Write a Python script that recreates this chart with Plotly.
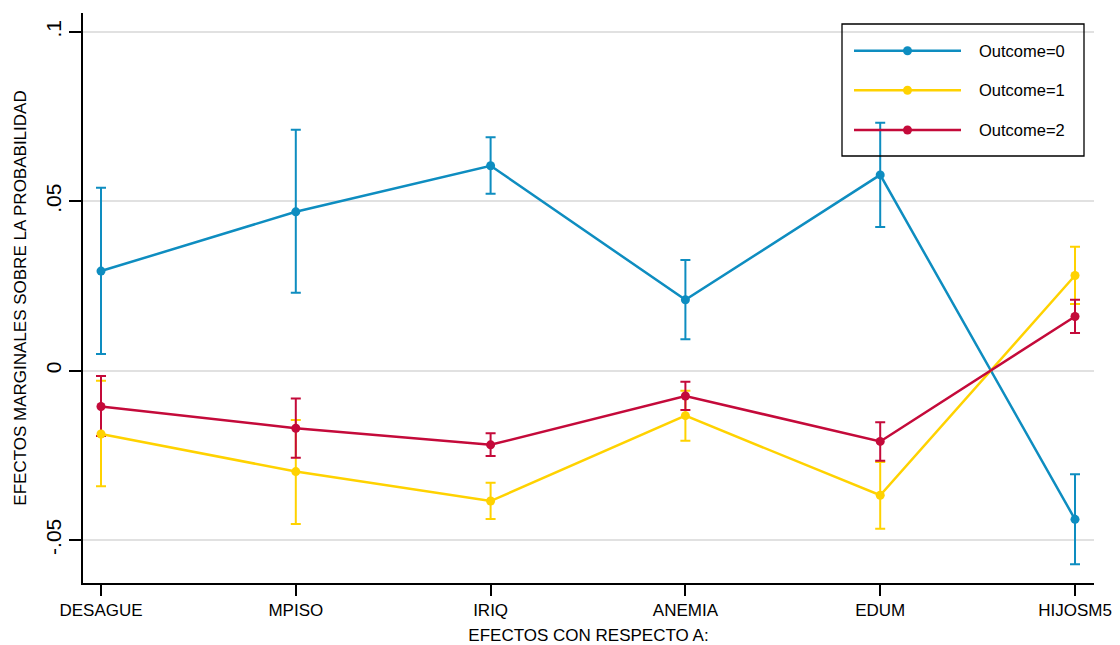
import plotly.graph_objects as go

categories = ["DESAGUE", "MPISO", "IRIQ", "ANEMIA", "EDUM", "HIJOSM5"]
series_names = ["Outcome=0", "Outcome=1", "Outcome=2"]

out0 = [0.0294, 0.0469, 0.0605, 0.0209, 0.0578, -0.0439]
out0_hi = [0.0540, 0.0711, 0.0689, 0.0327, 0.0732, -0.0306]
out0_lo = [0.0049, 0.0230, 0.0522, 0.0093, 0.0424, -0.0572]

out1 = [-0.0187, -0.0298, -0.0385, -0.0133, -0.0368, 0.0281]
out1_hi = [-0.0030, -0.0146, -0.0331, -0.0059, -0.0270, 0.0366]
out1_lo = [-0.0341, -0.0453, -0.0438, -0.0207, -0.0467, 0.0197]

out2 = [-0.0106, -0.0170, -0.0219, -0.0075, -0.0209, 0.0160]
out2_hi = [-0.0016, -0.0082, -0.0185, -0.0033, -0.0152, 0.0209]
out2_lo = [-0.0193, -0.0257, -0.0252, -0.0116, -0.0266, 0.0111]

y_ticks = [-0.05, 0, 0.05, 0.1]
y_tick_labels = ["-.05", "0", ".05", ".1"]

colors = ["#0E8DC0", "#FFD200", "#C40A3A"]
FONT = "Liberation Sans, Arial, sans-serif"

series = [(out0, out0_hi, out0_lo), (out1, out1_hi, out1_lo), (out2, out2_hi, out2_lo)]
xs = list(range(len(categories)))

fig = go.Figure()

# confidence intervals first (drawn beneath lines)
for (vals, hi, lo), col, name in zip(series, colors, series_names):
    fig.add_trace(go.Scatter(
        x=xs, y=vals, mode="markers", showlegend=False, hoverinfo="skip",
        marker=dict(size=1, opacity=0, color=col),
        error_y=dict(type="data", symmetric=False,
                     array=[h - v for h, v in zip(hi, vals)],
                     arrayminus=[v - l for v, l in zip(vals, lo)],
                     color=col, thickness=2, width=5),
    ))

for (vals, hi, lo), col, name in zip(series, colors, series_names):
    fig.add_trace(go.Scatter(
        x=xs, y=vals, mode="lines+markers", name=name, showlegend=False,
        line=dict(color=col, width=2.5),
        marker=dict(color=col, size=9),
    ))

# page has an 8px body margin: figure origin sits at (8, 8) of the window
OFF = 8
W, H = 1112, 637
# plot area in window pixels
L, R, T, B = 83, 1094, 13, 583
def px(x):
    return (x - L) / (R - L)
def py(y):
    return (B - y) / (B - T)

shapes = [dict(type="rect", xref="paper", yref="paper",
               x0=px(842), x1=px(1084), y0=py(156), y1=py(24),
               line=dict(color="black", width=1.3), fillcolor="rgba(0,0,0,0)")]
annotations = []
rows = [50.7, 90.3, 130]
for name, col, ry in zip(series_names, colors, rows):
    shapes.append(dict(type="line", xref="paper", yref="paper",
                       x0=px(854), x1=px(961), y0=py(ry), y1=py(ry),
                       line=dict(color=col, width=2.5)))
    shapes.append(dict(type="circle", xref="paper", yref="paper",
                       xsizemode="pixel", ysizemode="pixel",
                       xanchor=px(907.5), yanchor=py(ry),
                       x0=-4.5, x1=4.5, y0=-4.5, y1=4.5,
                       fillcolor=col, line=dict(color=col, width=0)))
    annotations.append(dict(xref="paper", yref="paper", x=px(977), y=py(ry),
                            xanchor="left", yanchor="middle", showarrow=False,
                            text=name, font=dict(family=FONT, size=16.5, color="black")))

fig.update_layout(
    width=W, height=H,
    margin=dict(l=L - OFF, r=W - (R - OFF), t=T - OFF, b=H - (B - OFF), autoexpand=False),
    paper_bgcolor="white", plot_bgcolor="white",
    font=dict(family=FONT, color="black"),
    shapes=shapes, annotations=annotations,
    showlegend=False,
    xaxis=dict(
        automargin=False,
        range=[-0.0924, 5.0975], tickmode="array", tickvals=xs, ticktext=categories,
        showgrid=False, zeroline=False, showline=True, linecolor="black", linewidth=1.5,
        ticks="outside", ticklen=11, tickwidth=1.5, tickcolor="black",
        tickfont=dict(family=FONT, size=17, color="black"),
        title=dict(text="EFECTOS CON RESPECTO A:", font=dict(family=FONT, size=17, color="black"),
                   standoff=14),
    ),
    yaxis=dict(
        automargin=False,
        range=[-0.0627, 0.1056], tickmode="array", tickvals=y_ticks, ticktext=y_tick_labels,
        showgrid=True, gridcolor="#E1E1E1", gridwidth=1.5,
        zeroline=True, zerolinecolor="#E1E1E1", zerolinewidth=1.5,
        showline=True, linecolor="black", linewidth=1.5,
        ticks="outside", ticklen=12, tickwidth=1.5, tickcolor="black", tickangle=-90,
        tickfont=dict(family=FONT, size=21, color="black"),
        title=dict(text="EFECTOS MARGINALES SOBRE LA PROBABILIDAD",
                   font=dict(family=FONT, size=17, color="black"), standoff=11),
    ),
)

fig.write_html("out.html")
